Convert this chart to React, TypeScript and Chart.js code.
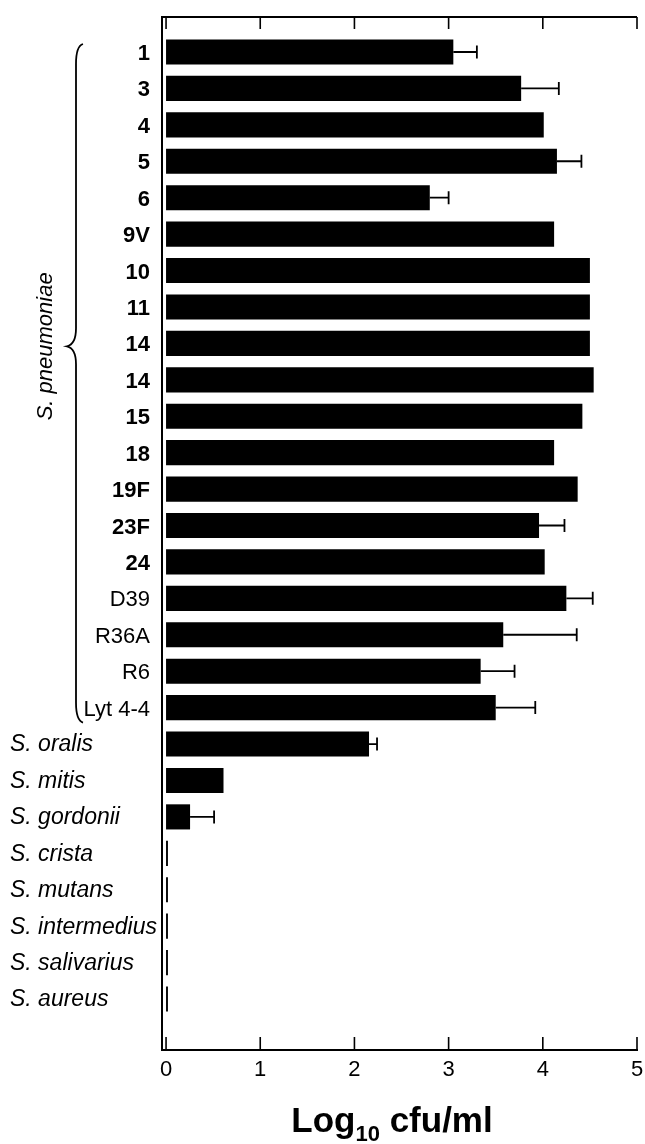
import React, { useEffect, useRef } from "react";
import { Chart, registerables } from "chart.js";

Chart.register(...registerables);

const categories: string[] = [
  "1", "3", "4", "5", "6", "9V", "10", "11", "14", "14", "15", "18", "19F", "23F", "24",
  "D39", "R36A", "R6", "Lyt 4-4",
  "S. oralis", "S. mitis", "S. gordonii", "S. crista", "S. mutans", "S. intermedius", "S. salivarius", "S. aureus",
];

const values: number[] = [
  3.05, 3.77, 4.01, 4.15, 2.8, 4.12, 4.5, 4.5, 4.5, 4.54, 4.42, 4.12, 4.37, 3.96, 4.02,
  4.25, 3.58, 3.34, 3.5,
  2.155, 0.61, 0.255, 0.02, 0.02, 0.02, 0.02, 0.02,
];

const errors: (number | null)[] = [
  0.25, 0.4, null, 0.26, 0.2, null, null, null, null, null, null, null, null, 0.27, null,
  0.28, 0.78, 0.36, 0.42,
  0.085, null, 0.255, null, null, null, null, null,
];

// 0 = bold serotype, 1 = plain strain, 2 = italic species
const labelStyle: number[] = [
  0, 0, 0, 0, 0, 0, 0, 0, 0, 0, 0, 0, 0, 0, 0,
  1, 1, 1, 1,
  2, 2, 2, 2, 2, 2, 2, 2,
];

const xTicks: number[] = [0, 1, 2, 3, 4, 5];

const groupLabel = "S. pneumoniae";
const FONT = "'Liberation Sans', Arial, Helvetica, sans-serif";

const decorPlugin = {
  id: "decor",
  afterDatasetsDraw(chart: any) {
    const { ctx, chartArea, scales } = chart;
    const xs = scales.x;
    const ys = scales.y;
    ctx.save();
    ctx.strokeStyle = "#000";
    ctx.fillStyle = "#000";

    // top border
    ctx.lineWidth = 2;
    ctx.beginPath();
    ctx.moveTo(chartArea.left - 1, chartArea.top);
    ctx.lineTo(chartArea.right, chartArea.top);
    ctx.stroke();

    // inward ticks top and bottom
    ctx.lineWidth = 1.6;
    xTicks.forEach((v) => {
      const px = xs.getPixelForValue(v);
      ctx.beginPath();
      ctx.moveTo(px, chartArea.top);
      ctx.lineTo(px, chartArea.top + 12);
      ctx.moveTo(px, chartArea.bottom);
      ctx.lineTo(px, chartArea.bottom - 13);
      ctx.stroke();
    });

    // error bars
    ctx.lineWidth = 1.8;
    values.forEach((v, i) => {
      const e = errors[i];
      if (e == null) return;
      const y = ys.getPixelForValue(i);
      const x0 = xs.getPixelForValue(v);
      const x1 = xs.getPixelForValue(v + e);
      ctx.beginPath();
      ctx.moveTo(x0, y);
      ctx.lineTo(x1, y);
      ctx.moveTo(x1, y - 6.5);
      ctx.lineTo(x1, y + 6.5);
      ctx.stroke();
    });
    ctx.restore();
  },
  afterDraw(chart: any) {
    const { ctx, scales } = chart;
    const ys = scales.y;
    ctx.save();
    ctx.fillStyle = "#000";
    ctx.strokeStyle = "#000";

    // species labels, left aligned
    ctx.font = `italic 23px ${FONT}`;
    ctx.textAlign = "left";
    ctx.textBaseline = "middle";
    categories.forEach((c, i) => {
      if (labelStyle[i] !== 2) return;
      ctx.fillText(c, 10, ys.getPixelForValue(i) + 1);
    });

    // curly brace around S. pneumoniae strains
    let last = 0;
    labelStyle.forEach((s, i) => { if (s !== 2) last = i; });
    const top = ys.getPixelForValue(0) - 8;
    const bottom = ys.getPixelForValue(last) + 15;
    const cusp = ys.getPixelForValue(8.08);
    const endX = 83, lineX = 76, cuspX = 67;
    ctx.lineWidth = 1.8;
    ctx.beginPath();
    ctx.moveTo(endX, top);
    ctx.quadraticCurveTo(lineX, top + 2, lineX, top + 20);
    ctx.lineTo(lineX, cusp - 18);
    ctx.quadraticCurveTo(lineX, cusp - 2, cuspX, cusp);
    ctx.quadraticCurveTo(lineX, cusp + 2, lineX, cusp + 18);
    ctx.lineTo(lineX, bottom - 20);
    ctx.quadraticCurveTo(lineX, bottom - 2, endX, bottom);
    ctx.stroke();

    // rotated group label
    ctx.save();
    ctx.translate(46, cusp);
    ctx.rotate(-Math.PI / 2);
    ctx.font = `italic 22px ${FONT}`;
    ctx.textAlign = "center";
    ctx.textBaseline = "middle";
    ctx.fillText(groupLabel, 0, 0);
    ctx.restore();

    // axis title with subscript
    ctx.textAlign = "left";
    ctx.textBaseline = "alphabetic";
    const big = `bold 35px ${FONT}`;
    const small = `bold 22px ${FONT}`;
    const p1 = "Log";
    const p2 = "10";
    const p3 = " cfu/ml";
    ctx.font = big;
    const w1 = ctx.measureText(p1).width;
    const w3 = ctx.measureText(p3).width;
    ctx.font = small;
    const w2 = ctx.measureText(p2).width;
    const total = w1 + w2 + w3;
    const cx = 392;
    let x = cx - total / 2;
    const base = 1132;
    ctx.font = big;
    ctx.fillText(p1, x, base);
    x += w1;
    ctx.font = small;
    ctx.fillText(p2, x, base + 9);
    x += w2;
    ctx.font = big;
    ctx.fillText(p3, x, base);
    ctx.restore();
  },
};

export default function App() {
  const ref = useRef<HTMLCanvasElement | null>(null);

  useEffect(() => {
    if (!ref.current) return;
    const chart = new Chart(ref.current, {
      type: "bar",
      data: {
        datasets: [
          {
            data: values.map((v, i) => ({ x: v, y: i })),
            backgroundColor: "#000",
            borderWidth: 0,
            barPercentage: 0.69,
            categoryPercentage: 1,
          },
        ],
      },
      options: {
        indexAxis: "y",
        responsive: false,
        animation: false,
        layout: { padding: { left: 0, right: 8, top: 17, bottom: 0 } },
        plugins: {
          legend: { display: false },
          tooltip: { enabled: false },
          title: { display: false },
        },
        scales: {
          x: {
            type: "linear",
            position: "bottom",
            min: -0.043,
            max: 5,
            offset: false,
            grid: { display: false, drawTicks: false },
            border: { display: true, color: "#000", width: 2 },
            afterBuildTicks: (scale: any) => {
              scale.ticks = xTicks.map((v) => ({ value: v }));
            },
            afterFit: (scale: any) => {
              scale.height = 94;
              scale.paddingLeft = 0;
              scale.paddingRight = 0;
            },
            ticks: {
              color: "#000",
              padding: 7,
              font: { family: FONT, size: 22 },
            },
          },
          y: {
            type: "linear",
            reverse: true,
            offset: false,
            min: -0.961,
            max: 27.4,
            grid: { display: false, drawTicks: false, offset: false },
            border: { display: true, color: "#000", width: 2 },
            afterBuildTicks: (scale: any) => {
              scale.ticks = categories.map((_, i) => ({ value: i }));
            },
            afterFit: (scale: any) => {
              scale.width = 162;
              scale.paddingTop = 0;
              scale.paddingBottom = 0;
            },
            ticks: {
              autoSkip: false,
              color: "#000",
              padding: 12,
              labelOffset: 2,
              callback: (value: any) => {
                const i = Math.round(Number(value));
                return labelStyle[i] === 2 ? "" : categories[i];
              },
              font: (c: any) => {
                const i = c.tick ? Math.round(c.tick.value) : 0;
                return { family: FONT, size: 22, weight: labelStyle[i] === 0 ? "bold" : "normal" };
              },
            },
          },
        },
      },
      plugins: [decorPlugin],
    });
    return () => chart.destroy();
  }, []);

  return (
    <div style={{ position: "absolute", left: 0, top: 0, width: 645, height: 1144 }}>
      <canvas ref={ref} width={645} height={1144} style={{ display: "block", width: 645, height: 1144 }} />
    </div>
  );
}
